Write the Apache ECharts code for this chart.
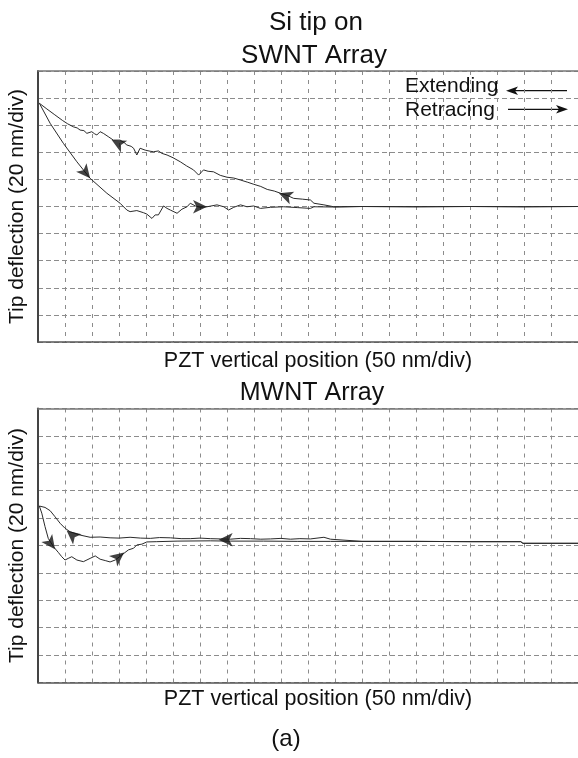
<!DOCTYPE html>
<html><head><meta charset="utf-8">
<script src="https://cdn.jsdelivr.net/npm/echarts@6/dist/echarts.min.js"></script>
<style>html,body{margin:0;padding:0;background:#fff}#c{width:578px;height:758px}</style>
</head><body><div id="c"></div>
<script>
// ---- text ----
const mainTitle = 'Si tip on';
const panelTitles = ['SWNT Array', 'MWNT Array'];
const xLabel = 'PZT vertical position (50 nm/div)';
const yLabel = 'Tip deflection (20 nm/div)';
const legendNames = ['Extending', 'Retracing'];
const caption = '(a)';

// ---- SWNT panel (x: divisions, y: divisions) ----
const swntExtX = [0.05,0.30,0.60,0.90,1.10,1.31,1.45,1.56,1.70,1.81,1.99,2.10,2.18,2.30,2.42,2.60,2.79,3.04,3.20,3.29,3.45,3.54,3.66,3.78,3.97,4.15,4.28,4.46,4.59,4.78,5.00,5.27,5.50,5.76,5.95,6.13,6.30,6.50,6.75,7.00,7.25,7.49,7.75,7.99,8.25,8.49,8.75,8.98,9.25,9.47,9.80,10.09,10.22,10.59,10.96,12,14,16,18,20];
const swntExtY = [8.81,8.62,8.40,8.18,8.05,7.94,7.90,7.82,7.80,7.70,7.76,7.68,7.64,7.76,7.70,7.58,7.45,7.45,7.35,7.27,7.22,7.15,6.90,7.15,7.08,7.04,7.02,7.05,6.96,6.90,6.80,6.65,6.50,6.35,6.16,6.35,6.30,6.28,6.15,6.08,6.05,5.98,5.90,5.82,5.74,5.63,5.57,5.49,5.40,5.30,5.27,5.24,5.12,5.06,4.99,5.00,4.99,5.00,4.99,5.00];
const swntRetX = [0.05,0.45,0.94,1.44,1.93,2.55,3.04,3.29,3.41,3.66,3.91,4.03,4.22,4.34,4.46,4.65,4.78,4.90,5.15,5.33,5.52,5.64,5.83,6.01,6.26,6.63,6.88,7.06,7.25,7.50,7.74,7.99,8.24,8.61,9.10,9.60,10.09,10.22,11,12,14,16,18,20];
const swntRetY = [8.81,8.07,7.33,6.65,6.04,5.49,5.12,4.87,4.81,4.85,4.77,4.72,4.56,4.69,4.69,5.02,4.93,4.87,4.75,4.90,4.99,5.12,5.02,4.97,4.99,5.06,4.99,4.87,4.97,5.06,4.99,5.02,4.93,4.97,4.99,4.96,4.93,4.99,4.98,5.00,4.99,5.00,4.99,5.00];
// arrows: x, y, rotation (deg)
const swntArrows = [[2.73,7.45,62],[8.92,5.49,70],[1.93,6.04,-141],[6.26,4.99,-90]];

// ---- MWNT panel ----
const mwntExtX = [0.05,0.26,0.45,0.63,0.82,1.00,1.19,1.56,1.93,2.3,2.67,3.0,3.41,3.8,4.16,4.5,4.90,5.3,5.64,6.0,6.38,6.75,7.12,7.5,7.87,8.25,8.61,9.0,9.35,9.7,10.09,10.59,10.83,12,14,16,17.88,17.96,20];
const mwntExtY = [6.44,6.39,6.27,6.05,5.81,5.63,5.50,5.38,5.30,5.31,5.28,5.27,5.30,5.27,5.26,5.29,5.28,5.25,5.25,5.27,5.25,5.24,5.23,5.26,5.25,5.23,5.24,5.26,5.23,5.25,5.24,5.30,5.23,5.15,5.15,5.14,5.14,5.08,5.08];
const mwntRetX = [0.05,0.14,0.26,0.38,0.57,0.75,0.88,1.00,1.12,1.25,1.44,1.68,1.93,2.12,2.30,2.49,2.67,2.86,3.02,3.19,3.35,3.54,3.66,3.85,4.03,4.40,5.15,6.38,7.12,8.36,9.60,10.83,12,14,16,17.88,17.96,20];
const mwntRetY = [6.44,6.18,5.69,5.26,4.96,4.75,4.59,4.47,4.53,4.59,4.47,4.41,4.53,4.62,4.50,4.45,4.40,4.47,4.59,4.72,4.84,4.90,5.02,5.05,5.13,5.14,5.16,5.17,5.16,5.16,5.15,5.15,5.15,5.15,5.14,5.14,5.08,5.08];
const mwntArrows = [[1.06,5.55,50],[6.69,5.21,90],[0.63,4.86,-144],[3.19,4.74,-52]];

const xDivs = 20, yDivs = 10;

const zip = (xs, ys) => xs.map((x, i) => [x, ys[i]]);
const FONT = 'Liberation Sans, Arial, sans-serif';
const grids = [
  {left: 38, top: 71, width: 540, height: 271},
  {left: 38, top: 408.5, width: 540, height: 274}
];

const xAxes = [], yAxes = [], series = [];
grids.forEach((g, i) => {
  xAxes.push({
    gridIndex: i, type: 'value', min: 0, max: xDivs, interval: 1, position: 'bottom',
    axisLine: {show: true, onZero: false, lineStyle: {color: '#555', width: 1.5}},
    axisTick: {show: false}, axisLabel: {show: false},
    splitLine: {show: true, lineStyle: {color: '#8c8c8c', width: 1, type: [4, 5]}}
  });
  xAxes.push({
    gridIndex: i, type: 'value', min: 0, max: xDivs, interval: 1, position: 'top',
    axisLine: {show: true, onZero: false, lineStyle: {color: '#777', width: 1.5}},
    axisTick: {show: false}, axisLabel: {show: false}, splitLine: {show: false}
  });
  yAxes.push({
    gridIndex: i, type: 'value', min: 0, max: yDivs, interval: 1,
    axisLine: {show: true, onZero: false, lineStyle: {color: '#444', width: 2}},
    axisTick: {show: false}, axisLabel: {show: false},
    splitLine: {show: true, lineStyle: {color: '#8c8c8c', width: 1, type: [5, 3]}}
  });
});

function addPanel(idx, ext, ret, arrows) {
  [ext, ret].forEach(d => series.push({
    type: 'line', xAxisIndex: idx * 2, yAxisIndex: idx, data: d,
    showSymbol: false, symbol: 'none', smooth: false, silent: true,
    lineStyle: {color: '#2a2a2a', width: 1}, z: 3
  }));
  series.push({
    type: 'scatter', xAxisIndex: idx * 2, yAxisIndex: idx,
    data: arrows.map(a => ({value: [a[0], a[1]], symbolRotate: a[2]})),
    symbol: 'arrow', symbolSize: [10, 14], itemStyle: {color: '#111'}, silent: true, z: 4
  });
}
addPanel(0, zip(swntExtX, swntExtY), zip(swntRetX, swntRetY), swntArrows);
addPanel(1, zip(mwntExtX, mwntExtY), zip(mwntRetX, mwntRetY), mwntArrows);

const txt = (text, x, y, size, align, rot) => ({
  type: 'text', x: x, y: y, rotation: rot || 0, z: 10,
  style: {text: text, fill: '#111', font: size + 'px ' + FONT, textAlign: align || 'center', textVerticalAlign: 'middle'}
});

const graphic = [
  txt(mainTitle, 316, 23, 26),
  txt(panelTitles[0], 314, 55.5, 26),
  txt(legendNames[0], 405, 86.7, 21, 'left'),
  txt(legendNames[1], 405, 110, 21, 'left'),
  txt(xLabel, 318, 360.7, 21.5),
  txt(panelTitles[1], 312, 393.3, 25),
  txt(xLabel, 318, 698.9, 21.5),
  txt(caption, 286, 739.5, 24),
  txt(yLabel, 17, 206.5, 21, 'center', Math.PI / 2),
  txt(yLabel, 17, 545.5, 21, 'center', Math.PI / 2),
  {type: 'line', shape: {x1: 512, y1: 90.7, x2: 567, y2: 90.7}, style: {stroke: '#111', lineWidth: 1.2}},
  {type: 'polygon', shape: {points: [[506, 90.7], [518, 86.5], [515, 90.7], [518, 94.9]]}, style: {fill: '#111'}},
  {type: 'line', shape: {x1: 508, y1: 109.3, x2: 562, y2: 109.3}, style: {stroke: '#111', lineWidth: 1.2}},
  {type: 'polygon', shape: {points: [[568, 109.3], [556, 105.1], [559, 109.3], [556, 113.5]]}, style: {fill: '#111'}}
];

const chart = echarts.init(document.getElementById('c'), null, {renderer: 'canvas'});
chart.setOption({
  animation: false,
  backgroundColor: '#fff',
  grid: grids,
  xAxis: xAxes,
  yAxis: yAxes,
  series: series,
  graphic: graphic
});
</script></body></html>
